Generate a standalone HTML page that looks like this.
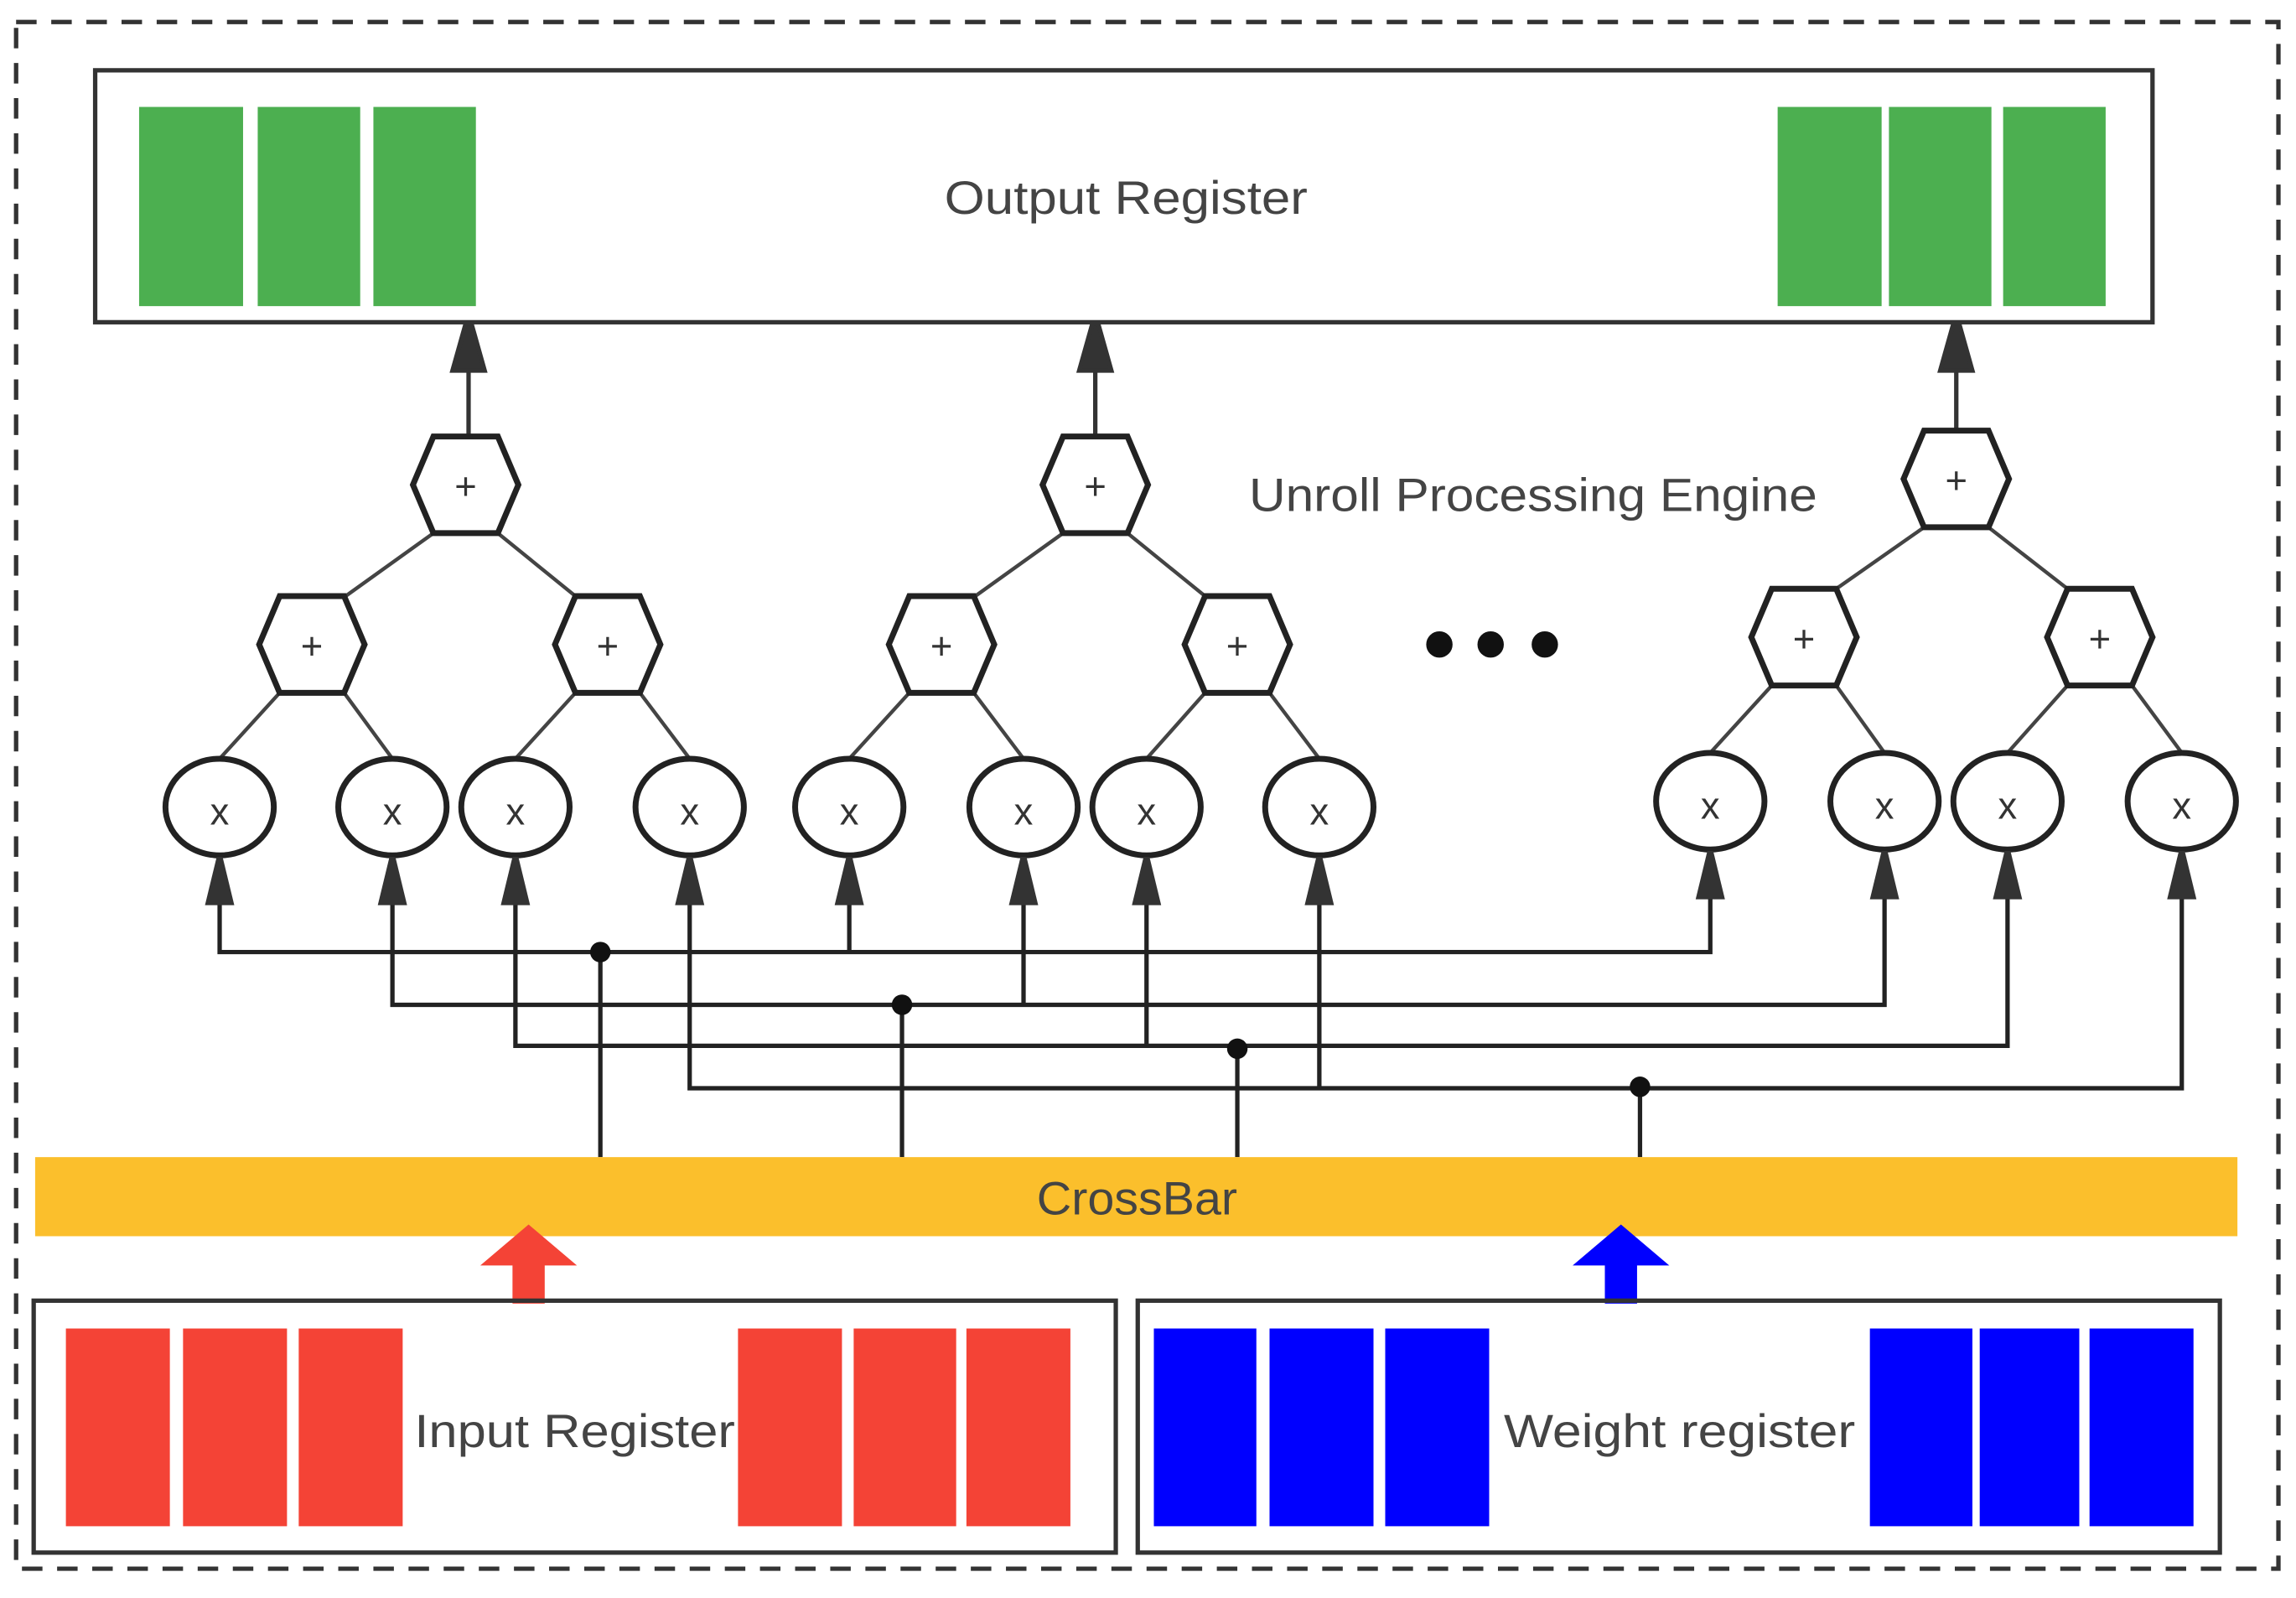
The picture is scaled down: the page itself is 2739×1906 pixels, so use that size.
<!DOCTYPE html>
<html><head><meta charset="utf-8"><style>html,body{margin:0;padding:0;background:#fff}svg{display:block}</style></head>
<body>
<svg width="2739" height="1906" viewBox="0 0 1568 1091" preserveAspectRatio="none" xmlns="http://www.w3.org/2000/svg" font-family="Liberation Sans, sans-serif">
<rect x="11" y="15" width="1545" height="1056" fill="none" stroke="#333" stroke-width="3" stroke-dasharray="14,10"/>
<rect x="65" y="48" width="1405" height="172" fill="#fff" stroke="#333" stroke-width="3"/>
<g fill="#4CAF50">
<rect x="95" y="73" width="71" height="136"/><rect x="176" y="73" width="70" height="136"/><rect x="255" y="73" width="70" height="136"/>
<rect x="1214" y="73" width="71" height="136"/><rect x="1290" y="73" width="70" height="136"/><rect x="1368" y="73" width="70" height="136"/>
</g>
<text x="645" y="146" font-size="32" fill="#444" textLength="248" lengthAdjust="spacingAndGlyphs">Output Register</text>
<text x="853" y="349" font-size="32" fill="#444" textLength="388" lengthAdjust="spacingAndGlyphs">Unroll Processing Engine</text>
<g fill="#111"><circle cx="983" cy="440" r="9"/><circle cx="1018" cy="440" r="9"/><circle cx="1055" cy="440" r="9"/></g>
<g stroke="#333" stroke-width="3" fill="#333">
<line x1="320" y1="298" x2="320" y2="250"/><path d="M309,253 L331,253 L322,221 L318,221Z"/>
<line x1="748" y1="298" x2="748" y2="250"/><path d="M737,253 L759,253 L750,221 L746,221Z"/>
<line x1="1336" y1="294" x2="1336" y2="250"/><path d="M1325,253 L1347,253 L1338,221 L1334,221Z"/>
</g>
<g stroke="#444" stroke-width="2.5" fill="none">
<line x1="296" y1="364" x2="236" y2="407"/><line x1="340" y1="364" x2="393" y2="407"/>
<line x1="191" y1="473" x2="150" y2="518"/><line x1="235" y1="473" x2="268" y2="518"/>
<line x1="393" y1="473" x2="352" y2="518"/><line x1="437" y1="473" x2="471" y2="518"/>
<line x1="726" y1="364" x2="666" y2="407"/><line x1="770" y1="364" x2="823" y2="407"/>
<line x1="621" y1="473" x2="580" y2="518"/><line x1="665" y1="473" x2="699" y2="518"/>
<line x1="823" y1="473" x2="783" y2="518"/><line x1="867" y1="473" x2="901" y2="518"/>
<line x1="1314" y1="360" x2="1254" y2="402"/><line x1="1358" y1="360" x2="1412" y2="402"/>
<line x1="1210" y1="468" x2="1168" y2="514"/><line x1="1254" y1="468" x2="1287" y2="514"/>
<line x1="1412" y1="468" x2="1371" y2="514"/><line x1="1456" y1="468" x2="1490" y2="514"/>
</g>
<g stroke="#222" stroke-width="4" fill="#fff">
<path d="M282,331 L296,298 L340,298 L354,331 L340,364 L296,364Z"/>
<path d="M712,331 L726,298 L770,298 L784,331 L770,364 L726,364Z"/>
<path d="M1300,327 L1314,294 L1358,294 L1372,327 L1358,360 L1314,360Z"/>
<path d="M177,440 L191,407 L235,407 L249,440 L235,473 L191,473Z"/>
<path d="M379,440 L393,407 L437,407 L451,440 L437,473 L393,473Z"/>
<path d="M607,440 L621,407 L665,407 L679,440 L665,473 L621,473Z"/>
<path d="M809,440 L823,407 L867,407 L881,440 L867,473 L823,473Z"/>
<path d="M1196,435 L1210,402 L1254,402 L1268,435 L1254,468 L1210,468Z"/>
<path d="M1398,435 L1412,402 L1456,402 L1470,435 L1456,468 L1412,468Z"/>
<ellipse cx="150" cy="551" rx="37" ry="33"/><ellipse cx="268" cy="551" rx="37" ry="33"/>
<ellipse cx="352" cy="551" rx="37" ry="33"/><ellipse cx="471" cy="551" rx="37" ry="33"/>
<ellipse cx="580" cy="551" rx="37" ry="33"/><ellipse cx="699" cy="551" rx="37" ry="33"/>
<ellipse cx="783" cy="551" rx="37" ry="33"/><ellipse cx="901" cy="551" rx="37" ry="33"/>
<ellipse cx="1168" cy="547" rx="37" ry="33"/><ellipse cx="1287" cy="547" rx="37" ry="33"/>
<ellipse cx="1371" cy="547" rx="37" ry="33"/><ellipse cx="1490" cy="547" rx="37" ry="33"/>
</g>
<g font-size="26" fill="#333" text-anchor="middle">
<text x="318" y="341">+</text><text x="748" y="341">+</text><text x="1336" y="337">+</text>
<text x="213" y="450">+</text><text x="415" y="450">+</text><text x="643" y="450">+</text><text x="845" y="450">+</text>
<text x="1232" y="445">+</text><text x="1434" y="445">+</text>
<text x="150" y="563">x</text><text x="268" y="563">x</text><text x="352" y="563">x</text><text x="471" y="563">x</text>
<text x="580" y="563">x</text><text x="699" y="563">x</text><text x="783" y="563">x</text><text x="901" y="563">x</text>
<text x="1168" y="559">x</text><text x="1287" y="559">x</text><text x="1371" y="559">x</text><text x="1490" y="559">x</text>
</g>
<g stroke="#222" stroke-width="3" fill="none">
<path d="M150,612 V650 H1168 V612"/><path d="M580,612 V650"/>
<path d="M268,612 V686 H1287 V612"/><path d="M699,612 V686"/>
<path d="M352,612 V714 H1371 V612"/><path d="M783,612 V714"/>
<path d="M471,612 V743 H1490 V612"/><path d="M901,612 V743"/>
<path d="M410,650 V790"/><path d="M616,686 V790"/><path d="M845,716 V790"/><path d="M1120,742 V790"/>
</g>
<g fill="#111">
<circle cx="410" cy="650" r="7"/><circle cx="616" cy="686" r="7"/><circle cx="845" cy="716" r="7"/><circle cx="1120" cy="742" r="7"/>
</g>
<g fill="#333">
<path d="M140,618 L160,618 L152,585 L148,585Z"/><path d="M258,618 L278,618 L270,585 L266,585Z"/>
<path d="M342,618 L362,618 L354,585 L350,585Z"/><path d="M461,618 L481,618 L473,585 L469,585Z"/>
<path d="M570,618 L590,618 L582,585 L578,585Z"/><path d="M689,618 L709,618 L701,585 L697,585Z"/>
<path d="M773,618 L793,618 L785,585 L781,585Z"/><path d="M891,618 L911,618 L903,585 L899,585Z"/>
<path d="M1158,614 L1178,614 L1170,581 L1166,581Z"/><path d="M1277,614 L1297,614 L1289,581 L1285,581Z"/>
<path d="M1361,614 L1381,614 L1373,581 L1369,581Z"/><path d="M1480,614 L1500,614 L1492,581 L1488,581Z"/>
</g>
<rect x="24" y="790" width="1504" height="54" fill="#FBBF2C"/>
<text x="708" y="829" font-size="32" fill="#444" textLength="137" lengthAdjust="spacingAndGlyphs">CrossBar</text>
<path d="M350,890 V864 H328 L361,836 L394,864 H372 V890Z" fill="#F44336"/>
<path d="M1096,890 V864 H1074 L1107,836 L1140,864 H1118 V890Z" fill="#0000FF"/>
<rect x="23" y="888" width="739" height="172" fill="none" stroke="#333" stroke-width="3"/>
<g fill="#F44336">
<rect x="45" y="907" width="71" height="135"/><rect x="125" y="907" width="71" height="135"/><rect x="204" y="907" width="71" height="135"/>
<rect x="504" y="907" width="71" height="135"/><rect x="583" y="907" width="70" height="135"/><rect x="660" y="907" width="71" height="135"/>
</g>
<text x="283" y="988" font-size="32" fill="#444" textLength="219" lengthAdjust="spacingAndGlyphs">Input Register</text>
<rect x="777" y="888" width="739" height="172" fill="none" stroke="#333" stroke-width="3"/>
<g fill="#0000FF">
<rect x="788" y="907" width="70" height="135"/><rect x="867" y="907" width="71" height="135"/><rect x="946" y="907" width="71" height="135"/>
<rect x="1277" y="907" width="70" height="135"/><rect x="1352" y="907" width="68" height="135"/><rect x="1427" y="907" width="71" height="135"/>
</g>
<text x="1027" y="988" font-size="32" fill="#444" textLength="240" lengthAdjust="spacingAndGlyphs">Weight register</text>
</svg>
</body></html>
